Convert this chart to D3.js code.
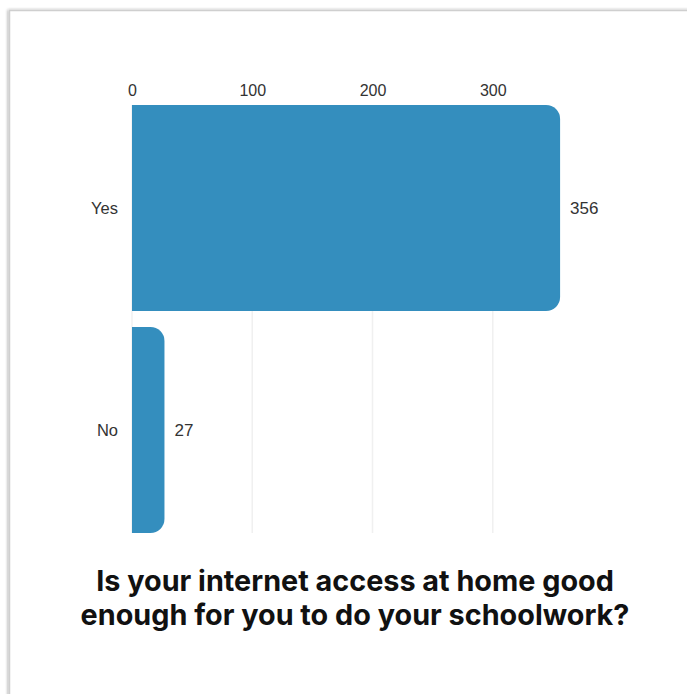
<!DOCTYPE html>
<html>
<head>
<meta charset="utf-8">
<script src="https://cdn.jsdelivr.net/npm/d3@7"></script>
<style>
  html, body { margin: 0; padding: 0; background: #fff; }
  svg { display: block; }
</style>
</head>
<body>
<svg id="chart" width="687" height="694"></svg>
<script>
// Survey answers and their counts
const categories = ["Yes", "No"];
const counts = [356, 27];
const tickValues = [0, 100, 200, 300];
const titleLines = [
  "Is your internet access at home good",
  "enough for you to do your schoolwork?"
];

const svg = d3.select("#chart");
const W = 687, H = 694;

// card with a soft shadow on its left and top edges
const defs = svg.append("defs");
const f = defs.append("filter").attr("id", "cardShadow")
  .attr("x", "-5%").attr("y", "-5%").attr("width", "110%").attr("height", "110%");
f.append("feGaussianBlur").attr("in", "SourceAlpha").attr("stdDeviation", 1.5);
f.append("feOffset").attr("dx", -1).attr("dy", 0).attr("result", "b");
f.append("feComponentTransfer").append("feFuncA").attr("type", "linear").attr("slope", 0.35);
const fm = f.append("feMerge");
fm.append("feMergeNode");
fm.append("feMergeNode").attr("in", "SourceGraphic");

svg.append("rect")
  .attr("x", 9.5).attr("y", 10.5)
  .attr("width", W + 20).attr("height", H + 20)
  .attr("fill", "#fff")
  .attr("stroke", "#cfcfcf")
  .attr("stroke-width", 1.5)
  .attr("filter", "url(#cardShadow)");

const x = d3.scaleLinear().domain([0, 400]).range([132, 613]);
const y = d3.scaleBand().domain(categories).range([105, 533])
  .paddingInner(16 / 222).paddingOuter(0);

// vertical gridlines, including the zero line
svg.append("g").selectAll("line")
  .data(tickValues)
  .join("line")
  .attr("x1", d => x(d)).attr("x2", d => x(d))
  .attr("y1", y.range()[0]).attr("y2", y.range()[1])
  .attr("stroke", "#f0f0f0")
  .attr("stroke-width", 1.5);

// top tick labels
const axis = d3.axisTop(x).tickValues(tickValues).tickSize(0).tickPadding(0);
const gAxis = svg.append("g").attr("transform", "translate(0,96)").call(axis);
gAxis.select(".domain").remove();
gAxis.selectAll("text")
  .attr("font-family", "'Liberation Sans', Arial, sans-serif")
  .attr("font-size", 16)
  .attr("fill", "#333");

// bars: square on the baseline, rounded on the value end
const r = 14;
function barPath(x0, x1, y0, h) {
  const rr = Math.min(r, (x1 - x0), h / 2);
  return `M${x0},${y0}H${x1 - rr}A${rr},${rr} 0 0 1 ${x1},${y0 + rr}` +
         `V${y0 + h - rr}A${rr},${rr} 0 0 1 ${x1 - rr},${y0 + h}H${x0}Z`;
}

const data = categories.map((c, i) => ({ cat: c, value: counts[i] }));

svg.append("g").selectAll("path")
  .data(data)
  .join("path")
  .attr("d", d => barPath(x(0), x(d.value), y(d.cat), y.bandwidth()))
  .attr("fill", "#348ebe");

// category labels
svg.append("g").selectAll("text")
  .data(data)
  .join("text")
  .attr("x", x(0) - 14)
  .attr("y", d => y(d.cat) + y.bandwidth() / 2)
  .attr("dy", "0.35em")
  .attr("text-anchor", "end")
  .attr("font-family", "'Liberation Sans', Arial, sans-serif")
  .attr("font-size", 16.5)
  .attr("fill", "#333")
  .text(d => d.cat);

// value labels
svg.append("g").selectAll("text")
  .data(data)
  .join("text")
  .attr("x", d => x(d.value) + 10)
  .attr("y", d => y(d.cat) + y.bandwidth() / 2)
  .attr("dy", "0.35em")
  .attr("font-family", "'Liberation Sans', Arial, sans-serif")
  .attr("font-size", 17)
  .attr("fill", "#333")
  .text(d => d.value);

// question title, sized so the first line spans about 518px
const title = svg.append("g").selectAll("text")
  .data(titleLines)
  .join("text")
  .attr("x", 355)
  .attr("y", (d, i) => 591 + i * 34)
  .attr("text-anchor", "middle")
  .attr("font-family", "Inter, 'Open Sans', sans-serif")
  .attr("font-weight", 700)
  .attr("font-size", 26)
  .attr("fill", "#111")
  .text(d => d);
const w0 = title.node().getComputedTextLength();
if (w0 > 0) title.attr("font-size", 26 * 518 / w0);
</script>
</body>
</html>
